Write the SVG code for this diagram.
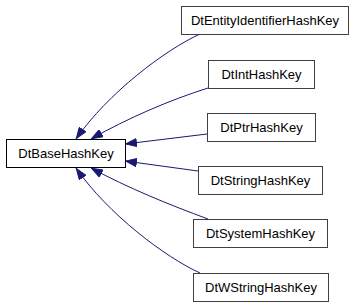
<svg xmlns="http://www.w3.org/2000/svg" width="355" height="307" viewBox="0 0 355 307">
<style>
.box{fill:#fff;stroke:#404040;stroke-width:1}
.base{fill:#fff;stroke:#000;stroke-width:1}
text{font-family:"Liberation Sans",Arial,sans-serif;font-size:13px;fill:#000;text-anchor:middle}
.edge{fill:none;stroke:#191970;stroke-width:1;marker-end:url(#arr)}
</style>
<defs>
<marker id="arr" viewBox="0 0 12 9" refX="12" refY="4.5" markerWidth="12" markerHeight="9" markerUnits="userSpaceOnUse" orient="auto">
<path d="M0.5,0.5 L11.5,4.5 L0.5,8.5 z" fill="#191970" stroke="#191970" stroke-width="1"/>
</marker>
</defs>
<g id="connectors">
<path class="edge" d="M200,34 C165,50 108,93 76,139"/>
<path class="edge" d="M208,88 C170,100 128,118 91,139"/>
<path class="edge" d="M207,134 L125,144"/>
<path class="edge" d="M198,171 L125,161"/>
<path class="edge" d="M208,219 C170,205 128,188 91,168"/>
<path class="edge" d="M200,273 C165,257 108,214 76,168"/>
</g>
<g id="DtBaseHashKey"><rect class="base" x="6.5" y="139.5" width="119" height="28"/><text x="66" y="158">DtBaseHashKey</text></g>
<g id="DtEntityIdentifierHashKey"><rect class="box" x="181.5" y="6.5" width="167" height="28"/><text x="265" y="25">DtEntityIdentifierHashKey</text></g>
<g id="DtIntHashKey"><rect class="box" x="208.5" y="60.5" width="106" height="28"/><text x="261.5" y="79">DtIntHashKey</text></g>
<g id="DtPtrHashKey"><rect class="box" x="207.5" y="113.5" width="108" height="28"/><text x="261.5" y="132">DtPtrHashKey</text></g>
<g id="DtStringHashKey"><rect class="box" x="198.5" y="166.5" width="124" height="28"/><text x="260.5" y="185">DtStringHashKey</text></g>
<g id="DtSystemHashKey"><rect class="box" x="193.5" y="219.5" width="134" height="28"/><text x="260.5" y="238">DtSystemHashKey</text></g>
<g id="DtWStringHashKey"><rect class="box" x="193.5" y="273.5" width="135" height="28"/><text x="261" y="292">DtWStringHashKey</text></g>
</svg>
